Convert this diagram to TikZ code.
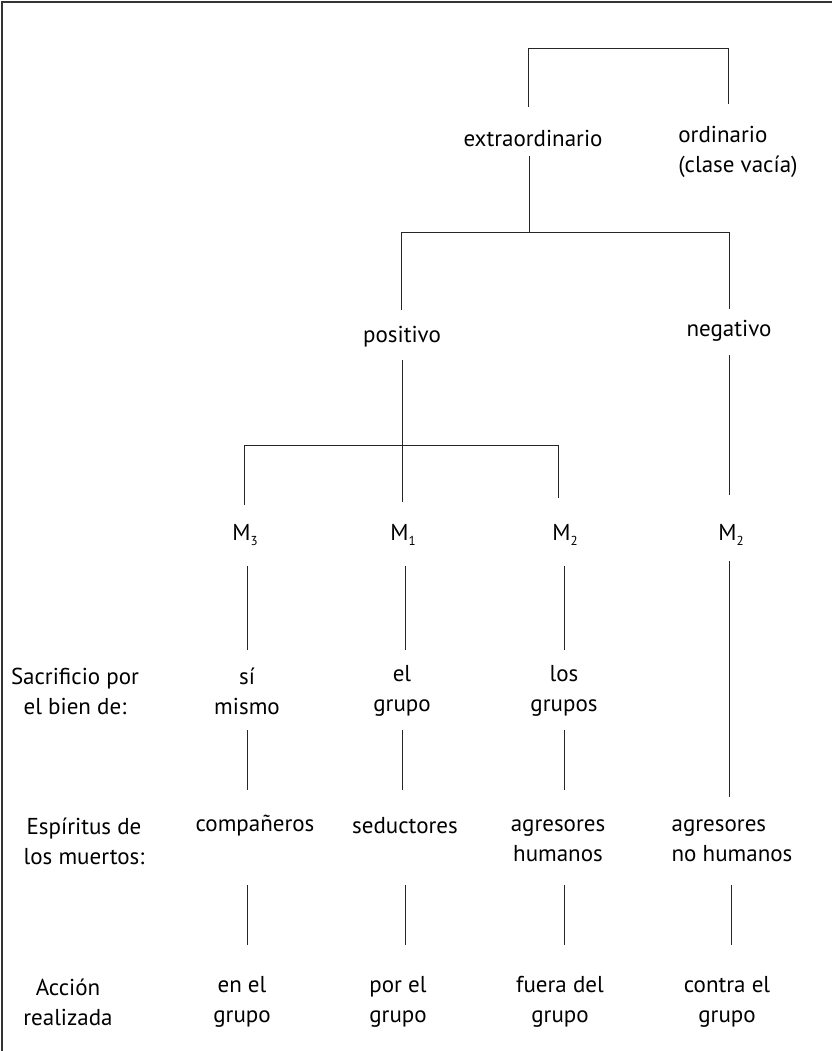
\documentclass[tikz,border=0pt]{standalone}
\usepackage{fontspec}
\setmainfont{PT Sans}
\newcommand{\msub}[1]{\raisebox{-0.45ex}{\fontsize{13}{13}\selectfont #1}}
\begin{document}
\begin{tikzpicture}[x=1pt,y=-1pt,
  lbl/.style={inner sep=0pt,align=center,font=\fontsize{23}{30}\selectfont},
  conn/.style={line width=1pt,draw=black!85}]
\useasboundingbox (0,0) rectangle (832,1051);
\draw[line width=1.2pt,black!80] (2,1051) -- (2,2) -- (832,2);
% nodes
\node[lbl] (ext) at (533,138) {extraordinario};
\node[lbl,align=left] (ord) at (738,152) {ordinario\\(clase vacía)};
\node[lbl] (pos) at (402,337) {positivo};
\node[lbl] (neg) at (729,331) {negativo};
\node[lbl] (m3) at (245,535) {M\msub{3}};
\node[lbl] (m1) at (403,535) {M\msub{1}};
\node[lbl] (m2) at (565,535) {M\msub{2}};
\node[lbl] (m2b) at (731,535) {M\msub{2}};
\node[lbl] (sacr) at (75,691) {Sacrificio por\\el bien de:};
\node[lbl] (si) at (247,691) {sí\\mismo};
\node[lbl] (el) at (402,691) {el\\grupo};
\node[lbl] (los) at (564,691) {los\\grupos};
\node[lbl] (esp) at (84,841) {Espíritus de\\los muertos:};
\node[lbl] (comp) at (255,826) {compañeros};
\node[lbl] (sed) at (405,826) {seductores};
\node[lbl] (agh) at (558,841) {agresores\\humanos};
\node[lbl,align=left] (agn) at (732,841) {agresores\\no humanos};
\node[lbl] (acc) at (68,1002) {Acción\\realizada};
\node[lbl] (en) at (242,1002) {en el\\grupo};
\node[lbl] (por) at (398,1002) {por el\\grupo};
\node[lbl] (fue) at (560,1002) {fuera del\\grupo};
\node[lbl] (con) at (727,1002) {contra el\\grupo};
% connector coordinates
\coordinate (a1) at (528,107); \coordinate (a2) at (528,49);
\coordinate (a3) at (728,49);  \coordinate (a4) at (728,104);
\coordinate (b0) at (529,156); \coordinate (b1) at (529,232);
\coordinate (b2) at (401,232); \coordinate (b3) at (401,310);
\coordinate (b4) at (729,232); \coordinate (b5) at (729,309);
\coordinate (c0) at (402,360); \coordinate (c1) at (402,502);
\coordinate (c2) at (244,445); \coordinate (c3) at (244,505);
\coordinate (c4) at (558,445); \coordinate (c5) at (558,498);
\coordinate (d0) at (729,355); \coordinate (d1) at (729,495);
\coordinate (e1) at (247,566); \coordinate (e2) at (247,650);
\coordinate (e3) at (405,566); \coordinate (e4) at (405,650);
\coordinate (e5) at (564,566); \coordinate (e6) at (564,650);
\coordinate (e7) at (729,561); \coordinate (e8) at (729,797);
\coordinate (f1) at (247,730); \coordinate (f2) at (247,790);
\coordinate (f3) at (402,730); \coordinate (f4) at (402,790);
\coordinate (f5) at (564,730); \coordinate (f6) at (564,790);
\coordinate (g1) at (247,885); \coordinate (g2) at (247,945);
\coordinate (g3) at (405,885); \coordinate (g4) at (405,945);
\coordinate (g5) at (564,885); \coordinate (g6) at (564,945);
\coordinate (g7) at (731,885); \coordinate (g8) at (731,945);
% connectors
\draw[conn] (a1) -- (a2) -- (a3) -- (a4);
\draw[conn] (b0) -- (b1);
\draw[conn] (b3) -- (b2) -- (b4) -- (b5);
\draw[conn] (c0) -- (c1);
\draw[conn] (c3) -- (c2) -- (c4) -- (c5);
\draw[conn] (d0) -- (d1);
\draw[conn] (e1) -- (e2);
\draw[conn] (e3) -- (e4);
\draw[conn] (e5) -- (e6);
\draw[conn] (e7) -- (e8);
\draw[conn] (f1) -- (f2);
\draw[conn] (f3) -- (f4);
\draw[conn] (f5) -- (f6);
\draw[conn] (g1) -- (g2);
\draw[conn] (g3) -- (g4);
\draw[conn] (g5) -- (g6);
\draw[conn] (g7) -- (g8);
\end{tikzpicture}
\end{document}
